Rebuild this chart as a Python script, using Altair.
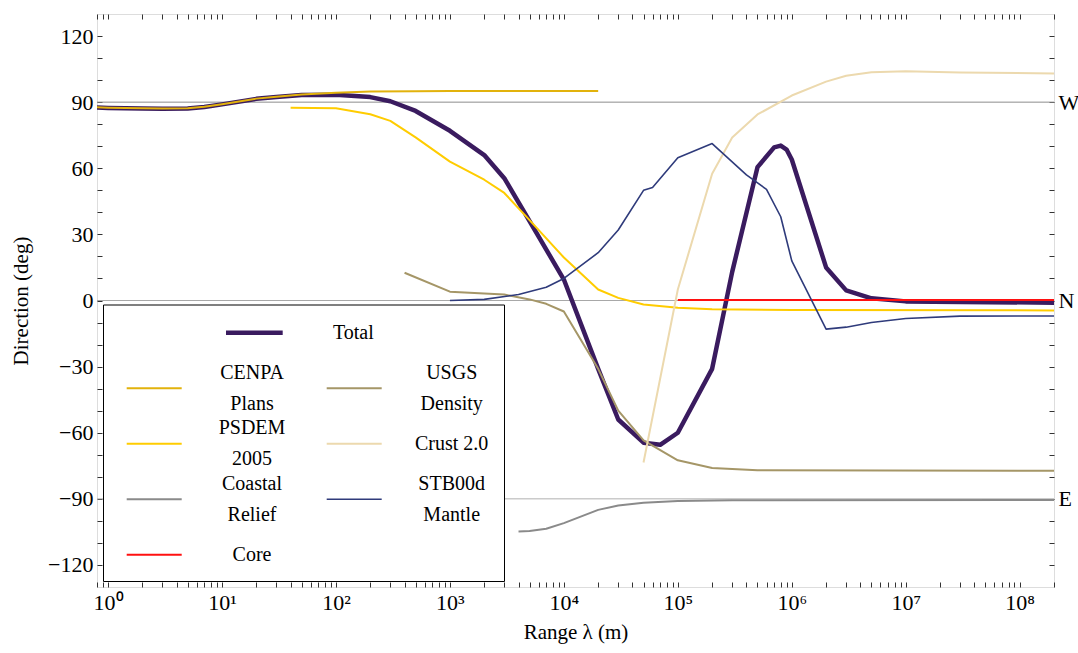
import altair as alt
import pandas as pd

# ---------------- data (range in metres, direction in degrees) ----------------
names = ["Total", "CENPA Plans", "PSDEM 2005", "Coastal Relief", "Core",
         "USGS Density", "Crust 2.0", "STB00d Mantle"]
legend_labels = ["Total", "CENPA\nPlans", "PSDEM\n2005", "Coastal\nRelief", "Core",
                 "USGS\nDensity", "Crust 2.0", "STB00d\nMantle"]
colors = ["#3a1b5f", "#e2b20c", "#ffcc00", "#8a8a8a", "#ff1010",
          "#a59667", "#ecd9ae", "#2f3b7b"]
widths = [4.5, 2.0, 2.0, 2.0, 2.0, 2.0, 2.0, 1.6]

total_x = [0.8, 1, 2, 3, 5, 7, 10, 20, 30, 50, 100, 200, 300, 500, 1000, 2000, 3000,
           5000, 1e4, 2e4, 3e4, 5e4, 7e4, 1e5, 2e5, 3e5, 5e5, 7e5, 8e5, 9e5, 1e6,
           2e6, 3e6, 5e6, 1e7, 2e8]
total_y = [87.6, 87.4, 87.1, 87.0, 87.1, 87.8, 89.0, 91.5, 92.3, 93.2, 93.4, 92.3, 90.4,
           86.0, 77.0, 66.0, 55.5, 36.0, 9.5, -31.0, -54.0, -64.5, -65.5, -60.0, -31.0,
           13.0, 60.5, 69.5, 70.3, 68.5, 64.0, 15.0, 4.6, 1.0, -0.4, -1.0]

cenpa_x = [0.8, 1, 2, 3, 5, 7, 10, 20, 30, 50, 100, 200, 500, 1000, 2e4]
cenpa_y = [87.7, 87.5, 87.2, 87.1, 87.2, 87.9, 89.1, 91.6, 92.5, 93.5, 94.3, 94.8, 95.0, 95.1, 95.1]

psdem_x = [40, 100, 200, 300, 500, 1000, 2000, 3000, 5000, 1e4, 2e4, 3e4, 5e4, 1e5,
           2e5, 1e6, 2e8]
psdem_y = [87.5, 87.2, 84.5, 81.5, 74.0, 63.0, 54.8, 48.8, 36.5, 19.5, 5.0, 1.2, -1.8,
           -3.3, -4.0, -4.3, -4.5]

coastal_x = [4000, 5000, 7000, 1e4, 2e4, 3e4, 5e4, 1e5, 3e5, 2e8]
coastal_y = [-104.8, -104.6, -103.6, -101.0, -95.0, -93.0, -91.8, -91.0, -90.6, -90.5]

core_x = [1e5, 2e8]
core_y = [0.2, 0.2]

usgs_x = [400, 1000, 2000, 3000, 5000, 7000, 1e4, 2e4, 3e4, 5e4, 1e5, 2e5, 5e5, 2e8]
usgs_y = [12.6, 4.0, 3.2, 2.7, 0.5, -1.5, -5.0, -31.0, -50.0, -63.5, -72.5, -76.0,
          -77.0, -77.3]

crust_x = [5e4, 1e5, 2e5, 3e5, 5e5, 1e6, 2e6, 3e6, 5e6, 1e7, 3e7, 2e8]
crust_y = [-73.5, 5.0, 57.5, 74.0, 84.4, 93.0, 99.3, 102.0, 103.6, 104.0, 103.5, 103.0]

mantle_x = [1000, 2000, 4000, 7000, 1e4, 2e4, 3e4, 5e4, 6e4, 1e5, 2e5, 4e5, 6e5, 8e5,
            1e6, 2e6, 3e6, 5e6, 1e7, 3e7, 2e8]
mantle_y = [0.0, 0.5, 2.7, 6.0, 10.0, 21.7, 32.0, 50.0, 51.3, 64.8, 71.2, 57.0, 50.4,
            38.0, 18.0, -13.0, -12.1, -10.0, -8.2, -7.1, -7.0]

series_x = [total_x, cenpa_x, psdem_x, coastal_x, core_x, usgs_x, crust_x, mantle_x]
series_y = [total_y, cenpa_y, psdem_y, coastal_y, core_y, usgs_y, crust_y, mantle_y]

ref_levels = [90, 0, -90]
ref_colors = ["#8c8c8c", "#a8a8a8", "#b0b0b0"]

x_domain = [0.8, 2e8]
y_domain = [-130, 130]
x_ticks = [m * 10 ** k for k in range(-1, 9) for m in range(1, 10)
           if x_domain[0] <= m * 10 ** k <= x_domain[1]]
y_ticks = list(range(-120, 121, 10))

# ---------------- layout / style ----------------
W, H = 957, 573
FONT = "Liberation Serif, Times New Roman, serif"
TICK_FS = 22
TITLE_FS = 21
LEG_FS = 20
LINE_H = 31

xscale = alt.Scale(type="log", domain=x_domain, nice=False)
yscale = alt.Scale(domain=y_domain, nice=False, zero=False)

sup = "['\u2070','\u00b9','\u00b2','\u00b3','\u2074','\u2075','\u2076','\u2077','\u2078']"
lg = "(log(datum.value)/LN10)"
x_label_expr = (f"abs({lg} - round({lg})) < 0.001 ? '10' + {sup}[round({lg})] : ''")

axis_common = dict(offset=-5, tickSize=5, domain=False, grid=False, tickColor="#333",
                   tickWidth=1, labelFont=FONT, titleFont=FONT, labelColor="black",
                   titleColor="black", labelOverlap=False, labelFlush=False,
                   titleFontWeight="normal")

bottom_axis = alt.Axis(orient="bottom", values=x_ticks, labelExpr=x_label_expr,
                       labelFontSize=TICK_FS, labelPadding=5, title="Range λ (m)",
                       titleFontSize=TITLE_FS, titlePadding=8, **axis_common)
left_axis = alt.Axis(orient="left", values=y_ticks,
                     labelExpr="datum.value % 30 == 0 ? datum.label : ''",
                     labelFontSize=TICK_FS, labelPadding=4, title="Direction (deg)",
                     titleFontSize=TITLE_FS, titlePadding=16, **axis_common)
top_axis = alt.Axis(orient="top", values=x_ticks, labels=False, title=None, **axis_common)
right_axis = alt.Axis(orient="right", values=y_ticks,
                      labelExpr="datum.value == 90 ? 'W' : datum.value == 0 ? 'N' : datum.value == -90 ? 'E' : ''",
                      labelFontSize=TICK_FS, labelPadding=4, title=None, **axis_common)

# reference lines (carry top & right axes)
ref_df = pd.DataFrame({"level": ref_levels, "c": ref_colors,
                       "x0": [x_domain[0]] * 3, "x1": [x_domain[1]] * 3})
ref_layer = alt.Chart(ref_df).mark_rule(strokeWidth=1).encode(
    x=alt.X("x0:Q", scale=xscale, axis=top_axis),
    x2="x1:Q",
    y=alt.Y("level:Q", scale=yscale, axis=right_axis),
    color=alt.Color("c:N", scale=None),
)

# data series layers
series_layers = []
for i, (nm, xs, ys) in enumerate(zip(names, series_x, series_y)):
    d = pd.DataFrame({"x": xs, "y": ys, "i": range(len(xs))})
    first = i == 0
    lyr = alt.Chart(d).mark_line(color=colors[i], strokeWidth=widths[i], clip=True,
                                 strokeJoin="round", strokeCap="butt").encode(
        x=alt.X("x:Q", scale=xscale, axis=bottom_axis if first else None),
        y=alt.Y("y:Q", scale=yscale, axis=left_axis if first else None),
        order="i:Q",
    )
    series_layers.append(lyr)

# ---------------- legend (drawn in pixel space) ----------------
box = pd.DataFrame({"x0": [6.5], "x1": [407.5], "y0": [291.0], "y1": [567.5]})
box_layer = alt.Chart(box).mark_rect(fill="white", stroke="black", strokeWidth=1).encode(
    x=alt.X("x0:Q", scale=None), x2="x1:Q",
    y=alt.Y("y0:Q", scale=None), y2="y1:Q",
)

row0, dy = 318.7, 55.5
col_line = [(29.7, 84.7), (229.7, 284.7)]
col_text = [155.0, 354.7]
slots = {"Total": None, "CENPA Plans": (1, 0), "PSDEM 2005": (2, 0), "Coastal Relief": (3, 0),
         "Core": (4, 0), "USGS Density": (1, 1), "Crust 2.0": (2, 1), "STB00d Mantle": (3, 1)}
leg_rows = []
for nm, lab, c, w in zip(names, legend_labels, colors, widths):
    if slots[nm] is None:
        lx0, lx1, ly, tx = 129.0, 185.7, row0, 256.3
    else:
        r, k = slots[nm]
        lx0, lx1 = col_line[k]
        ly = row0 + r * dy
        tx = col_text[k]
    nl = lab.count("\n") + 1
    leg_rows.append({"lx0": lx0, "lx1": lx1, "ly": ly, "tx": tx,
                     "ty": ly - (nl - 1) * LINE_H / 2, "label": lab, "c": c, "w": w})
leg_df = pd.DataFrame(leg_rows)

leg_lines = alt.Chart(leg_df).mark_rule().encode(
    x=alt.X("lx0:Q", scale=None), x2="lx1:Q",
    y=alt.Y("ly:Q", scale=None),
    color=alt.Color("c:N", scale=None),
    strokeWidth=alt.StrokeWidth("w:Q", scale=None),
)
leg_text = alt.Chart(leg_df).mark_text(font=FONT, fontSize=LEG_FS, align="center",
                                       baseline="middle", lineBreak="\n", lineHeight=LINE_H,
                                       color="black").encode(
    x=alt.X("tx:Q", scale=None),
    y=alt.Y("ty:Q", scale=None),
    text="label:N",
)

chart = alt.layer(ref_layer, *series_layers, box_layer, leg_lines, leg_text).resolve_axis(
    x="independent", y="independent"
).properties(
    width=W, height=H,
    autosize=alt.AutoSizeParams(type="none"),
    padding={"left": 97, "top": 14, "right": 1078 - 97 - W, "bottom": 653 - 14 - H},
    background="white",
).configure_view(stroke="#444", strokeWidth=1.2).configure(font=FONT)

chart.save("out.html", embed_options={"renderer": "svg", "actions": False})
